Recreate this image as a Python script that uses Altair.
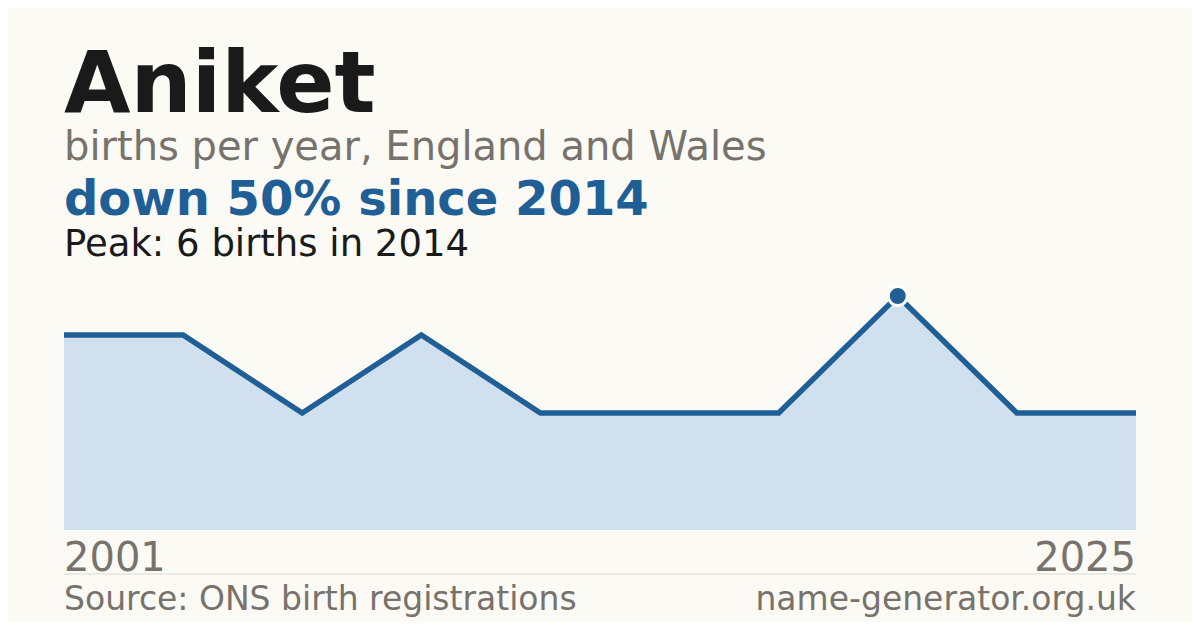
import altair as alt
import pandas as pd

# ---- data ----
name = "Aniket"
subtitle = "births per year, England and Wales"
years = ["2001", "2003", "2005", "2007", "2009", "2011", "2012", "2014", "2019", "2025"]
births = [5, 5, 3, 5, 3, 3, 3, 6, 3, 3]
source_text = "Source: ONS birth registrations"
site_text = "name-generator.org.uk"

peak_val = max(births)
peak_year = years[births.index(peak_val)]
last_val = births[-1]
change = round((last_val - peak_val) / peak_val * 100)
headline = f"down {abs(change)}% since {peak_year}" if change < 0 else f"up {change}% since {peak_year}"
peak_text = f"Peak: {peak_val} births in {peak_year}"

df = pd.DataFrame({"year": years, "births": births})

FONT = "DejaVu Sans"
BLUE = "#1f5f96"
FILL = "#d0e0ef"
GREY = "#77726b"
DARK = "#1a1a1a"
BG = "#fbfaf5"

W, H = 1072, 234

xenc = alt.X("year:O", scale=alt.Scale(type="point", padding=0), axis=None, sort=None)
yenc = alt.Y("births:Q", scale=alt.Scale(domain=[0, peak_val], nice=False, zero=True), axis=None)

base = alt.Chart(df)
area = base.mark_area(color=FILL, opacity=1).encode(x=xenc, y=yenc)
line = base.mark_line(color=BLUE, strokeWidth=5.5, strokeJoin="miter").encode(x=xenc, y=yenc)
peak = base.transform_filter(alt.datum.births == peak_val).mark_circle(
    color=BLUE, opacity=1, size=360, stroke="white", strokeWidth=3, strokeOpacity=1
).encode(x=xenc, y=yenc)

first_lbl = base.transform_filter(alt.datum.year == years[0]).mark_text(
    align="left", baseline="alphabetic", font=FONT, fontSize=40, color=GREY
).encode(x=xenc, y=alt.value(275), text="year:N")
last_lbl = base.transform_filter(alt.datum.year == years[-1]).mark_text(
    align="right", baseline="alphabetic", font=FONT, fontSize=40, color=GREY
).encode(x=xenc, y=alt.value(275), text="year:N")


def label(text, y, size, color, weight="normal", align="left", xpos=0):
    return alt.Chart(pd.DataFrame({"t": [text]})).mark_text(
        align=align, baseline="alphabetic", font=FONT, fontSize=size,
        fontWeight=weight, color=color
    ).encode(x=alt.value(xpos), y=alt.value(y), text="t:N")


title = label(name, -184, 86, DARK, "bold")
sub = label(subtitle, -136, 40, GREY)
head = label(headline, -81, 48, BLUE, "bold")
peakl = label(peak_text, -40, 37, DARK)
src = label(source_text, 314, 33, GREY)
site = label(site_text, 314, 33, GREY, align="right", xpos=W)

sep = alt.Chart(pd.DataFrame({"a": [0]})).mark_rule(color="#dcd9d2", strokeWidth=1).encode(
    x=alt.value(0), x2=alt.value(W), y=alt.value(278)
)

chart = alt.layer(
    area, line, peak, first_lbl, last_lbl, sep, title, sub, head, peakl, src, site
).properties(
    width=W, height=H,
    padding={"left": 56, "top": 288, "right": 56, "bottom": 92},
    autosize=alt.AutoSizeParams(type="none"),
).configure(background=BG).configure_view(stroke=None)

chart.save("out.html", embed_options={"renderer": "svg", "actions": False})
